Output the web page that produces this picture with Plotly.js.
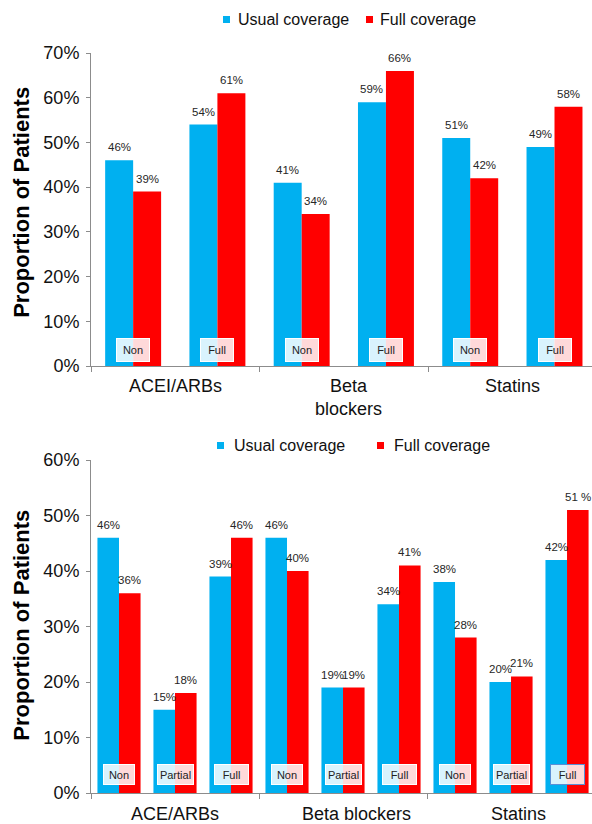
<!DOCTYPE html>
<html>
<head>
<meta charset="utf-8">
<script src="https://cdn.plot.ly/plotly-3.0.1.min.js"></script>
<style>
  html, body { margin: 0; padding: 0; background: #fff; overflow: hidden; }
  #chart { width: 592px; height: 824px; }
</style>
</head>
<body>
<div id="chart"></div>
<script>
// Adherence by drug class and coverage group
const topCategories = ['ACEI/ARBs', 'Beta<br>blockers', 'Statins'];
const topGroups = ['Non', 'Full', 'Non', 'Full', 'Non', 'Full'];
const topUsual = [46, 54, 41, 59, 51, 49];
const topFull = [39, 61, 34, 66, 42, 58];

const bottomCategories = ['ACE/ARBs', 'Beta blockers', 'Statins'];
const bottomGroups = ['Non', 'Partial', 'Full', 'Non', 'Partial', 'Full', 'Non', 'Partial', 'Full'];
const bottomUsual = [46, 15, 39, 46, 19, 34, 38, 20, 42];
const bottomFull = [36, 18, 46, 40, 19, 41, 28, 21, 51];
const bottomFullText = ['36%', '18%', '46%', '40%', '19%', '41%', '28%', '21%', '51 %'];

const seriesNames = ['Usual coverage', 'Full coverage'];
const yTicks = [0, 10, 20, 30, 40, 50, 60, 70];

const BLUE = '#00B0F0';
const RED = '#FF0000';
const AXIS = '#8c8c8c';
const FONT = 'Liberation Sans, Arial, Helvetica, sans-serif';

function pct(v) { return v + '%'; }

const traces = [];
const annotations = [];
const shapes = [];
const layout = {
  width: 592, height: 824,
  margin: { l: 91, r: 0, t: 53, b: 31 },
  paper_bgcolor: '#fff', plot_bgcolor: '#fff',
  showlegend: false,
  barmode: 'overlay',
  font: { family: FONT }
};

function addPanel(ax, opts) {
  const xa = 'x' + ax, ya = 'y' + ax;          // trace / annotation refs
  const xd = xa + ' domain', yd = ya + ' domain';
  const n = opts.groups.length;
  const idx = opts.groups.map((_, i) => i);
  const w = opts.barWidth;
  const per = n / opts.categories.length;

  traces.push(
    { type: 'bar', name: seriesNames[0], x: idx, y: opts.usual, width: w, offset: -w,
      xaxis: xa, yaxis: ya, marker: { color: BLUE, line: { width: 0 } }, hoverinfo: 'skip' },
    { type: 'bar', name: seriesNames[1], x: idx, y: opts.full, width: w, offset: 0,
      xaxis: xa, yaxis: ya, marker: { color: RED, line: { width: 0 } }, hoverinfo: 'skip' }
  );

  const valFont = { family: FONT, size: 11.5, color: '#262626' };
  opts.usual.forEach((v, i) => annotations.push({
    x: i - w / 2, y: v, xref: xa, yref: ya, text: pct(v), showarrow: false,
    yanchor: 'middle', yshift: 13, font: valFont
  }));
  opts.full.forEach((v, i) => annotations.push({
    x: i + w / 2, y: v, xref: xa, yref: ya, text: opts.fullText ? opts.fullText[i] : pct(v),
    showarrow: false, yanchor: 'middle', yshift: 13, font: valFont
  }));

  // coverage-group boxes at the foot of each pair
  opts.groups.forEach((g, i) => annotations.push({
    x: i, y: 0, xref: xa, yref: ya, text: g, showarrow: false,
    yanchor: 'bottom', yshift: opts.boxShift,
    width: opts.boxW[g], height: opts.boxH, borderpad: 0, borderwidth: 1,
    bordercolor: (i === n - 1 && opts.lastBoxBorder) ? opts.lastBoxBorder : '#ffffff',
    bgcolor: 'rgba(255,255,255,0.85)',
    font: { family: FONT, size: 11, color: '#222' }
  }));

  // drug-class labels under the axis
  opts.categories.forEach((c, k) => annotations.push({
    x: k * per + (per - 1) / 2, y: 0, xref: xa, yref: yd, text: c, showarrow: false,
    yanchor: 'top', yshift: opts.catShift, xshift: opts.catX[k],
    font: { family: FONT, size: 18, color: '#111' }
  }));

  // y-axis title
  annotations.push({
    x: -0.138, y: opts.titleY, xref: xd, yref: yd, text: '<b>Proportion of Patients</b>',
    showarrow: false, textangle: -90, xanchor: 'center', yanchor: 'middle',
    font: { family: FONT, size: 22, color: '#000' }
  });

  // legend
  const lg = opts.legend;
  seriesNames.forEach((s, j) => annotations.push({
    x: 0, y: 1, xref: xd, yref: yd, text: s, showarrow: false,
    xanchor: 'left', yanchor: 'middle', xshift: lg.textX[j], yshift: lg.textY,
    font: { family: FONT, size: 16, color: '#111' }
  }));
  [BLUE, RED].forEach((col, j) => shapes.push({
    type: 'rect', xref: xd, yref: yd, xsizemode: 'pixel', ysizemode: 'pixel',
    xanchor: 0, yanchor: 1, x0: lg.boxX[j], x1: lg.boxX[j] + 7, y0: lg.boxY, y1: lg.boxY - 7,
    fillcolor: col, line: { width: 0 }
  }));

  const shown = yTicks.filter(t => t <= opts.yRange[1]);
  layout['xaxis' + ax] = {
    domain: [0, 1], anchor: ya,
    range: opts.xRange, showgrid: false, zeroline: false,
    showline: true, linecolor: AXIS, linewidth: 1,
    tickmode: 'array', tickvals: opts.categories.map((_, k) => k * per - 0.5),
    ticks: 'outside', ticklen: 5, tickcolor: AXIS, showticklabels: false
  };
  layout['yaxis' + ax] = {
    domain: opts.domain, anchor: xa,
    range: opts.yRange, showgrid: false, zeroline: false,
    showline: true, linecolor: AXIS, linewidth: 1,
    tickmode: 'array', tickvals: shown, ticktext: shown.map(pct),
    ticks: 'outside', ticklen: 4, tickcolor: AXIS, ticklabelstandoff: 3,
    tickfont: { family: FONT, size: 18, color: '#111' }
  };
}

addPanel('', {
  categories: topCategories, groups: topGroups, usual: topUsual, full: topFull,
  barWidth: 0.332, xRange: [-0.5, 5.445], yRange: [0, 70], domain: [0.577, 1],
  boxW: { Non: 32, Full: 32 }, boxH: 22, boxShift: 4,
  catShift: -8, catX: [0, 5, 0],
  titleY: 0.524,
  legend: { boxX: [132, 275], boxY: 37, textX: [145, 287], textY: 33.5 }
});

addPanel('2', {
  categories: bottomCategories, groups: bottomGroups, usual: bottomUsual, full: bottomFull,
  fullText: bottomFullText,
  barWidth: 0.385, xRange: [-0.5, 8.446], yRange: [0, 60], domain: [0, 0.45],
  boxW: { Non: 30, Partial: 35, Full: 33 }, boxH: 19, boxShift: 8,
  lastBoxBorder: '#5b8fd6',
  catShift: -9, catX: [0, 13, 7],
  titleY: 0.505,
  legend: { boxX: [126, 286], boxY: 18, textX: [140.5, 300.5], textY: 15 }
});

layout.annotations = annotations;
layout.shapes = shapes;
Plotly.newPlot('chart', traces, layout, { staticPlot: true, displayModeBar: false });
</script>
</body>
</html>
